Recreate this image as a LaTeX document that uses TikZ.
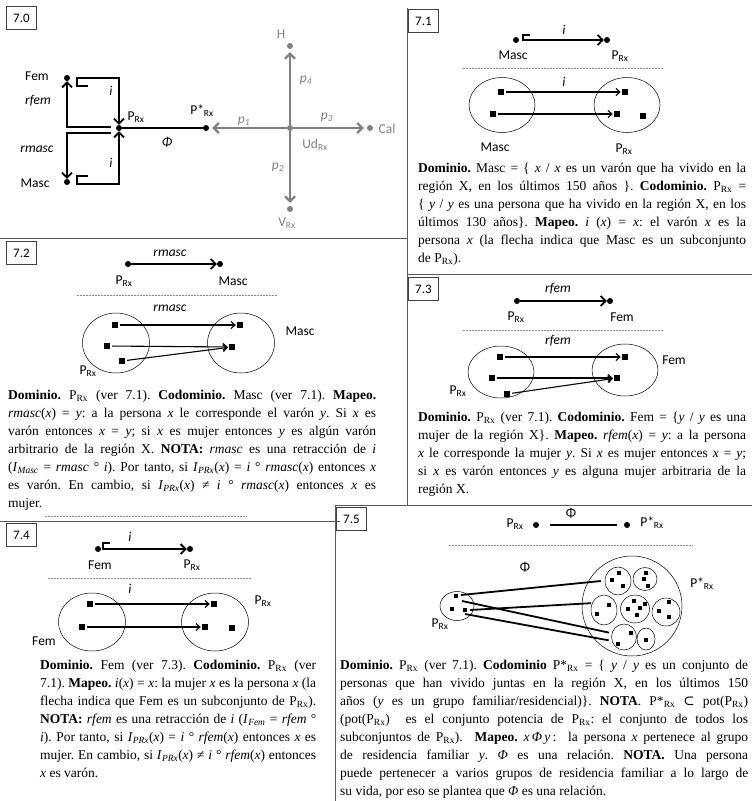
\documentclass[tikz,border=0pt]{standalone}
\usepackage{fontspec}
\setmainfont{Liberation Serif}
\newfontfamily\lblfont{Carlito}
\newfontfamily\dvsfont{DejaVu Serif}
\usetikzlibrary{arrows.meta,shapes.geometric}
\newcommand{\rx}{\textsubscript{Rx}}
\hyphenpenalty=10000
\frenchspacing
\tikzset{
  tag/.style    = {draw=black!75, line width=0.8pt, anchor=north west, inner sep=0pt,
                   minimum width=30pt, minimum height=23pt,
                   font=\lblfont\fontsize{13}{15}\selectfont},
  pt/.style     = {circle, fill=black, inner sep=0pt, minimum size=6pt},
  gpt/.style    = {pt, fill=gray},
  elem/.style   = {rectangle, fill=black, inner sep=0pt, minimum size=6pt},
  memb/.style   = {rectangle, fill=black, inner sep=0pt, minimum size=3.5pt},
  lbl/.style    = {inner sep=1pt, font=\lblfont\fontsize{13.5}{15}\selectfont},
  lbli/.style   = {lbl, font=\lblfont\itshape\fontsize{13.5}{15}\selectfont},
  glbl/.style   = {lbl, text=gray},
  glbli/.style  = {lbli, text=gray},
  mapto/.style  = {line width=1.8pt, -{Straight Barb[length=5pt, width=10pt]}},
  gmap/.style   = {mapto, draw=gray, line width=2.2pt, shorten >=3pt},
  elmap/.style  = {line width=1.1pt, -{Straight Barb[length=4pt, width=7pt]},
                   shorten <=2pt, shorten >=1pt},
  setb/.style   = {ellipse, draw, line width=0.5pt, inner sep=0pt},
  rel/.style    = {line width=1.8pt},
  sep/.style    = {draw=black!65, line width=0.9pt},
  cut/.style    = {draw=black!45, dash pattern=on 2pt off 1pt, line width=0.5pt},
  txt/.style    = {anchor=north west, inner sep=0pt, align=justify,
                   font=\frenchspacing\fontsize{13.5}{18}\selectfont},
}

\begin{document}
\begin{tikzpicture}[x=1pt, y=-1pt]
\useasboundingbox (0,0) rectangle (752,801);

% panel frames
\draw[sep] (0,238) -- (407,238);
\draw[sep] (407,8) -- (407,505);
\draw[sep] (407,274) -- (752,274);
\draw[sep] (335,505) -- (752,505);
\draw[sep] (0,521) -- (340,521);
\draw[sep] (335,505) -- (335,801);

% ---------------- 7.0
\node[tag] (t0) at (6,6) {7.0};
\node[pt] (fem) at (67,78) {};
\node[pt] (prx) at (119,128) {};
\node[pt] (masc) at (67,182) {};
\node[pt] (pst) at (206,128) {};
\node[gpt] (ud) at (290,128) {};
\node[gpt] (hh) at (290,46) {};
\node[gpt] (cal) at (370,128) {};
\node[gpt] (vrx) at (290,209) {};

\node[lbl] (femL) at (37,76) {Fem};
\node[lbl] (mascL) at (35,183) {Masc};
\node[lbli] (rfemL) at (38,101) {rfem};
\node[lbli] (rmascL) at (37,149) {rmasc};
\node[lbli] (ifL) at (111,91) {i};
\node[lbli] (imL) at (111,163) {i};
\node[lbl] (prxL) at (136,117) {P\rx};
\node[lbl] (pstL) at (202,111) {P*\rx};
\node[lbli] (phiL) at (167,142) {Φ};
\node[glbl] (hL) at (281,34) {H};
\node[glbli] (p4L) at (306,80) {p\textsubscript{4}};
\node[glbli] (p1L) at (244,121) {p\textsubscript{1}};
\node[glbli] (p3L) at (327,117) {p\textsubscript{3}};
\node[glbl] (calL) at (387,129) {Cal};
\node[glbl] (udL) at (315,145) {Ud\rx};
\node[glbli] (p2L) at (278,167) {p\textsubscript{2}};
\node[glbl] (vL) at (287,223) {V\rx};

\coordinate (rf0) at (111,127);
\coordinate (rm0) at (111,133);
\draw[mapto] (rf0) -| (fem);
\draw[mapto] (rm0) -| (masc);
\coordinate (fi0) at (88,86);
\coordinate (mi0) at (88,176);
\draw[mapto] (fi0) -- ++(-11,0) -- ++(0,-8) -| (prx);
\draw[mapto] (mi0) -- ++(-11,0) -- ++(0,8) -| (prx);
\draw[rel] (prx) -- (pst);
\draw[gmap] (ud) -- (pst);
\draw[gmap] (ud) -- (hh);
\draw[gmap] (ud) -- (cal);
\draw[gmap] (ud) -- (vrx);

% ---------------- 7.1
\node[tag] (t1) at (408,9) {7.1};
\node[pt] (m1) at (516,40) {};
\node[pt] (q1) at (607,40) {};
\node[lbl] (m1L) at (513,55) {Masc};
\node[lbl] (q1L) at (620,56) {P\rx};
\node[lbli] (i1L) at (564,30) {i};
\coordinate (h1) at (530,35);
\draw[mapto] (h1) -- ++(-7,0) -- ++(0,5) -- (q1);
\draw[cut] (463,68) -- (663,68);
\node[lbli] (i1b) at (564,82) {i};
\node[setb, minimum width=66pt, minimum height=55pt] (A1) at (502,105) {};
\node[setb, minimum width=66pt, minimum height=55pt] (B1) at (627,105) {};
\node[elem] (a11) at (501,92) {};
\node[elem] (a12) at (493,114) {};
\node[elem] (b11) at (625,92) {};
\node[elem] (b12) at (617,114) {};
\node[elem] (b13) at (643,116) {};
\draw[elmap] (a11) -- (b11);
\draw[elmap] (a12) -- (b12);
\node[lbl] (A1L) at (495,147) {Masc};
\node[lbl] (B1L) at (624,149) {P\rx};
\node[txt, text width=328pt] (d1) at (418,163) {\textbf{Dominio.} Masc = \{ \textit{x} / \textit{x} es un varón que ha vivido en la\linebreak
región X, en los últimos 150 años \}. \textbf{Codominio.} P\rx{} =\linebreak
\{ \textit{y} / \textit{y} es una persona que ha vivido en la región X, en los\linebreak
últimos 130 años\}. \textbf{Mapeo.} \textit{i} (\textit{x}) = \textit{x}: el varón \textit{x} es la\linebreak
persona \textit{x} (la flecha indica que Masc es un subconjunto\linebreak
de P\rx).};

% ---------------- 7.2
\node[tag] (t2) at (6,241) {7.2};
\node[pt] (q2) at (128,264) {};
\node[pt] (m2) at (220,264) {};
\draw[mapto] (q2) -- (m2);
\node[lbli] (r2L) at (170,253) {rmasc};
\node[lbl] (q2L) at (124,281) {P\rx};
\node[lbl] (m2L) at (233,281) {Masc};
\draw[cut] (77,295) -- (277,295);
\node[lbli] (r2b) at (170,308) {rmasc};
\node[setb, minimum width=67pt, minimum height=60pt] (A2) at (116,343) {};
\node[setb, minimum width=67pt, minimum height=60pt] (B2) at (241,343) {};
\node[elem] (a21) at (115,325) {};
\node[elem] (a22) at (107,346) {};
\node[elem] (a23) at (122,361) {};
\node[elem] (b21) at (240,325) {};
\node[elem] (b22) at (232,347) {};
\draw[elmap] (a21) -- (b21);
\draw[elmap] (a22) -- (b22);
\draw[elmap] (a23) -- (b22);
\node[lbl] (B2L) at (300,331) {Masc};
\node[lbl] (A2L) at (88,371) {P\rx};
\node[txt, text width=368pt] (d2) at (8,390) {\textbf{Dominio.} P\rx{} (ver 7.1). \textbf{Codominio.} Masc (ver 7.1). \textbf{Mapeo.}\linebreak
\textit{rmasc}(\textit{x}) = \textit{y}: a la persona \textit{x} le corresponde el varón \textit{y}. Si \textit{x} es\linebreak
varón entonces \textit{x} = \textit{y}; si \textit{x} es mujer entonces \textit{y} es algún varón\linebreak
arbitrario de la región X. \textbf{NOTA:} \textit{rmasc} es una retracción de \textit{i}\linebreak
(\textit{I}\textsubscript{\textit{Masc}} = \textit{rmasc} ° \textit{i}). Por tanto, si \textit{I}\textsubscript{\textit{PRx}}(\textit{x}) = \textit{i} ° \textit{rmasc}(\textit{x}) entonces \textit{x}\linebreak
es varón. En cambio, si \textit{I}\textsubscript{\textit{PRx}}(\textit{x}) ≠ \textit{i} ° \textit{rmasc}(\textit{x}) entonces \textit{x} es\linebreak
mujer.};

% ---------------- 7.3
\node[tag] (t3) at (408,277) {7.3};
\node[pt] (q3) at (517,301) {};
\node[pt] (f3) at (610,301) {};
\draw[mapto] (q3) -- (f3);
\node[lbli] (r3L) at (558,289) {rfem};
\node[lbl] (q3L) at (516,317) {P\rx};
\node[lbl] (f3L) at (622,317) {Fem};
\draw[cut] (463,330) -- (663,330);
\node[lbli] (r3b) at (558,341) {rfem};
\node[setb, minimum width=66pt, minimum height=52pt] (A3) at (501,372) {};
\node[setb, minimum width=66pt, minimum height=52pt] (B3) at (625,370) {};
\node[elem] (a31) at (500,357) {};
\node[elem] (a32) at (492,378) {};
\node[elem] (a33) at (507,394) {};
\node[elem] (b31) at (625,357) {};
\node[elem] (b32) at (617,378) {};
\draw[elmap] (a31) -- (b31);
\draw[elmap] (a32) -- (b32);
\draw[elmap] (a33) -- (b32);
\node[lbl] (B3L) at (674,360) {Fem};
\node[lbl] (A3L) at (458,391) {P\rx};
\node[txt, text width=328pt] (d3) at (418,412) {\textbf{Dominio.} P\rx{} (ver 7.1). \textbf{Codominio.} Fem = \{\textit{y} / \textit{y} es una\linebreak
mujer de la región X\}. \textbf{Mapeo.} \textit{rfem}(\textit{x}) = \textit{y}: a la persona\linebreak
\textit{x} le corresponde la mujer \textit{y}. Si \textit{x} es mujer entonces \textit{x} = \textit{y};\linebreak
si \textit{x} es varón entonces \textit{y} es alguna mujer arbitraria de la\linebreak
región X.};

% ---------------- 7.4
\draw[cut] (45,516) -- (247,516);
\node[tag] (t4) at (6,523) {7.4};
\node[pt] (f4) at (98,549) {};
\node[pt] (q4) at (190,549) {};
\coordinate (h4) at (110,543);
\draw[mapto] (h4) -- ++(-7,0) -- ++(0,6) -- (q4);
\node[lbli] (i4L) at (130,537) {i};
\node[lbl] (f4L) at (100,565) {Fem};
\node[lbl] (q4L) at (192,565) {P\rx};
\draw[cut] (48,578) -- (252,578);
\node[lbli] (i4b) at (130,589) {i};
\node[setb, minimum width=67pt, minimum height=58pt] (A4) at (92,622) {};
\node[setb, minimum width=67pt, minimum height=58pt] (B4) at (215,622) {};
\node[elem] (a41) at (90,604) {};
\node[elem] (a42) at (82,627) {};
\node[elem] (b41) at (214,604) {};
\node[elem] (b42) at (205,627) {};
\node[elem] (b43) at (232,628) {};
\draw[elmap] (a41) -- (b41);
\draw[elmap] (a42) -- (b42);
\node[lbl] (B4L) at (263,601) {P\rx};
\node[lbl] (A4L) at (44,641) {Fem};
\node[txt, text width=276pt] (d4) at (40,660) {\textbf{Dominio.} Fem (ver 7.3). \textbf{Codominio.} P\rx{} (ver\linebreak
7.1). \textbf{Mapeo.} \textit{i}(\textit{x}) = \textit{x}: la mujer \textit{x} es la persona \textit{x} (la\linebreak
flecha indica que Fem es un subconjunto de P\rx).\linebreak
\textbf{NOTA:} \textit{rfem} es una retracción de \textit{i} (\textit{I}\textsubscript{\textit{Fem}} = \textit{rfem} °\linebreak
\textit{i}). Por tanto, si \textit{I}\textsubscript{\textit{PRx}}(\textit{x}) = \textit{i} ° \textit{rfem}(\textit{x}) entonces \textit{x} es\linebreak
mujer. En cambio, si \textit{I}\textsubscript{\textit{PRx}}(\textit{x}) ≠ \textit{i} ° \textit{rfem}(\textit{x}) entonces\linebreak
\textit{x} es varón.};

% ---------------- 7.5
\node[tag] (t5) at (336,507) {7.5};
\node[pt] (q5) at (536,525) {};
\node[pt] (s5) at (627,525) {};
\draw[rel, shorten <=11pt, shorten >=7pt] (q5) -- (s5);
\node[lbl] (q5L) at (515,524) {P\rx};
\node[lbl] (s5L) at (652,523) {P*\rx};
\node[lbl] (phi5) at (571,513) {Φ};
\draw[cut] (449,545) -- (693,545);
\node[lbl] (phi5b) at (525,567) {Φ};

\node[setb, circle, minimum size=100pt] (big) at (632,606) {};
\node[lbl] (bigL) at (702,584) {P*\rx};
\node[setb, minimum width=34pt, minimum height=29pt] (sm) at (457,606) {};
\node[lbl] (smL) at (440,624) {P\rx};
\node[memb] (e1) at (456,596) {};
\node[memb] (e2) at (452,609) {};
\node[memb] (e3) at (465,610) {};

\node[setb, minimum width=26pt, minimum height=28pt] (g1) at (618,581) {};
\node[setb, minimum width=24pt, minimum height=23pt] (g2) at (645,579) {};
\node[setb, minimum width=26pt, minimum height=30pt] (g3) at (604,610) {};
\node[setb, minimum width=29pt, minimum height=28pt] (g4) at (635,609) {};
\node[setb, minimum width=28pt, minimum height=28pt] (g5) at (666,612) {};
\node[setb, minimum width=25pt, minimum height=26pt] (g6) at (624,637) {};
\node[setb, minimum width=18pt, minimum height=22pt] (g7) at (646,639) {};
\foreach \p in {(612,580),(619,573),(623,586),
                (646,573),(644,579),(648,586),
                (609,605),(597,614),
                (634,601),(628,609),(640,608),(645,604),(637,615),
                (669,602),(659,611),(669,617),
                (631,633),(618,644),
                (646,640)}
  \node[memb] at \p {};

\coordinate (l1) at (461,595);
\coordinate (l2) at (462,601);
\coordinate (l3) at (470,610);
\coordinate (l4) at (465,614);
\draw[rel] (l1) -- ([xshift=-4pt]g1.west);
\draw[rel] (l2) -- ([xshift=-3pt]g6.160);
\draw[rel] (l3) -- ([xshift=-1pt]g3.150);
\draw[rel] (l4) -- ([xshift=-3pt]g6.195);

\node[txt, text width=408pt] (d5) at (340,660) {\textbf{Dominio.} P\rx{} (ver 7.1). \textbf{Codominio} P*\rx{} = \{ \textit{y} / \textit{y} es un conjunto de\linebreak
personas que han vivido juntas en la región X, en los últimos 150\linebreak
años (\textit{y} es un grupo familiar/residencial)\}. \textbf{NOTA}. P*\rx{} {\dvsfont ⊂} pot(P\rx)\linebreak
(pot(P\rx) \ es el conjunto potencia de P\rx: el conjunto de todos los\linebreak
subconjuntos de P\rx). \ \textbf{Mapeo.} \textit{x}\,\textit{Φ}\,\textit{y}\,: \ la persona \textit{x} pertenece al grupo\linebreak
de residencia familiar \textit{y}. \textit{Φ} es una relación. \textbf{NOTA.} Una persona\linebreak
puede pertenecer a varios grupos de residencia familiar a lo largo de\linebreak
su vida, por eso se plantea que \textit{Φ} es una relación.};
\end{tikzpicture}
\end{document}
